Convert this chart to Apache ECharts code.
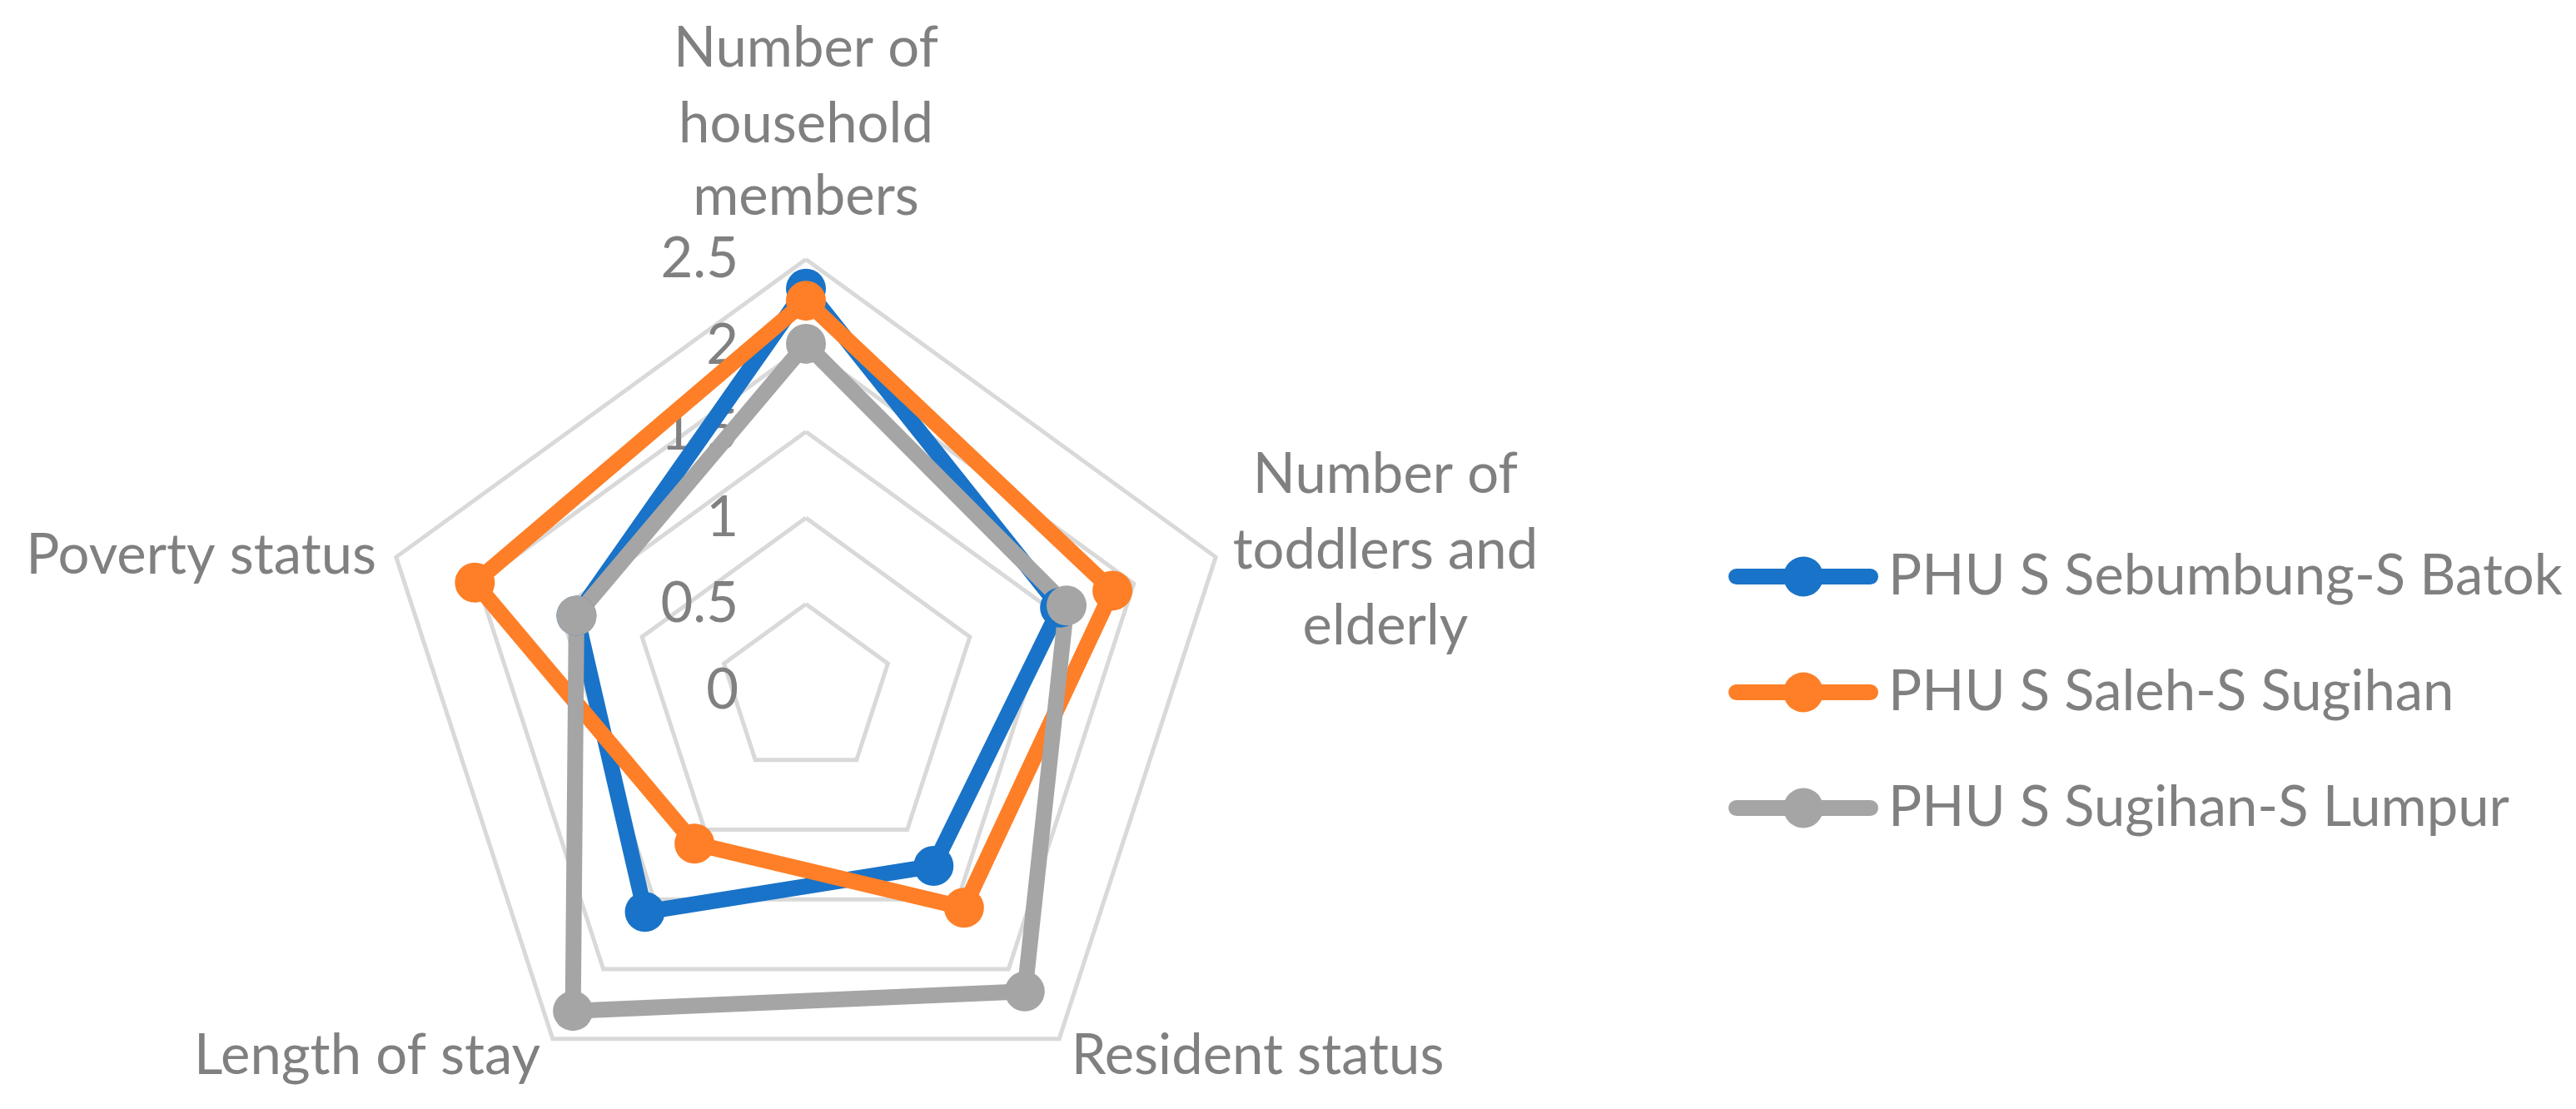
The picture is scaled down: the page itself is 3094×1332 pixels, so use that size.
<!DOCTYPE html>
<html>
<head>
<meta charset="utf-8">
<script src="https://cdn.jsdelivr.net/npm/echarts@6/dist/echarts.min.js"></script>
<style>
html,body{margin:0;padding:0;background:#fff;}
#chart{width:3094px;height:1332px;}
</style>
</head>
<body>
<div id="chart"></div>
<script>
// Categories in clockwise order starting from the top
const categories = [
  'Number of\nhousehold\nmembers',
  'Number of\ntoddlers and\nelderly',
  'Resident status',
  'Length of stay',
  'Poverty status'
];
const seriesNames = ['PHU S Sebumbung-S Batok', 'PHU S Saleh-S Sugihan', 'PHU S Sugihan-S Lumpur'];
const sebumbung = [2.33, 1.55, 1.26, 1.59, 1.40];
const saleh     = [2.26, 1.87, 1.56, 1.10, 2.02];
const lumpur    = [2.01, 1.59, 2.16, 2.30, 1.40];
const tickLabels = ['0', '0.5', '1', '1.5', '2', '2.5'];
const axisMin = 0, axisMax = 2.5;

const colors = ['#1973C8', '#FE7F27', '#A5A5A5'];
const FONT = 'Lato';
const TXT = '#808080';

// ECharts lays indicators counter-clockwise; reorder to keep them clockwise
const order = [0, 4, 3, 2, 1];
const reorder = arr => order.map(i => arr[i]);

const indicator = order.map((i, k) => {
  const o = { name: categories[i], min: axisMin, max: axisMax };
  if (k === 0) o.axisLabel = { show: true };
  return o;
});

const legendIcon = 'path://M9.5,14.5 L67.96,14.5 A24,24 0 0 1 112.04,14.5 L170.5,14.5 A9.5,9.5 0 0 1 170.5,33.5 L112.04,33.5 A24,24 0 0 1 67.96,33.5 L9.5,33.5 A9.5,9.5 0 0 1 9.5,14.5 Z';

const allSeries = [sebumbung, saleh, lumpur].map((vals, si) => ({
  type: 'radar',
  name: seriesNames[si],
  symbol: 'circle',
  symbolSize: 48,
  lineStyle: { width: 19, color: colors[si], join: 'round' },
  itemStyle: { color: colors[si] },
  emphasis: { disabled: true },
  data: [{ name: seriesNames[si], value: reorder(vals) }]
}));

const richBase = { fontFamily: FONT, fontSize: 67, color: TXT };

const chart = echarts.init(document.getElementById('chart'), null, { renderer: 'canvas' });
chart.setOption({
  animation: false,
  backgroundColor: '#ffffff',
  color: colors,
  legend: {
    orient: 'vertical',
    left: 2071,
    top: 654,
    itemWidth: 180,
    itemHeight: 48,
    itemGap: 72,
    icon: legendIcon,
    data: seriesNames,
    textStyle: { fontFamily: FONT, fontSize: 67, color: TXT, padding: [0, 0, 0, 7] }
  },
  radar: {
    center: [968, 829],
    radius: 517.5,
    startAngle: 90,
    shape: 'polygon',
    splitNumber: 5,
    nameGap: 25,
    axisName: {
      fontFamily: FONT,
      fontSize: 67,
      lineHeight: 91,
      color: TXT,
      formatter: function (name) {
        let key = 'n';
        if (name.indexOf('toddlers') >= 0) key = 't';
        else if (name.indexOf('household') >= 0) key = 'h';
        else if (name.indexOf('Poverty') >= 0) key = 'p';
        const lines = name.split('\n');
        return lines.map((s, li) => {
          const k = (key === 'h' && li === lines.length - 1) ? 'hl' : key;
          return '{' + k + '|' + s + '}';
        }).join('\n');
      },
      rich: {
        t: Object.assign({ width: 360, align: 'center', lineHeight: 91 }, richBase),
        h: Object.assign({ lineHeight: 91 }, richBase),
        hl: Object.assign({ lineHeight: 83 }, richBase),
        p: Object.assign({ lineHeight: 79, verticalAlign: 'bottom' }, richBase),
        n: Object.assign({ lineHeight: 91 }, richBase)
      }
    },
    axisLine: { show: false },
    axisTick: { show: false },
    axisLabel: {
      show: false,
      margin: 81,
      fontFamily: FONT,
      fontSize: 67,
      color: TXT,
      formatter: function (v) {
        const idx = Math.round((v - axisMin) / ((axisMax - axisMin) / (tickLabels.length - 1)));
        return tickLabels[idx] !== undefined ? tickLabels[idx] : String(v);
      }
    },
    splitLine: { lineStyle: { color: '#D9D9D9', width: 5 } },
    splitArea: { show: false },
    indicator: indicator
  },
  series: allSeries
});
</script>
</body>
</html>
